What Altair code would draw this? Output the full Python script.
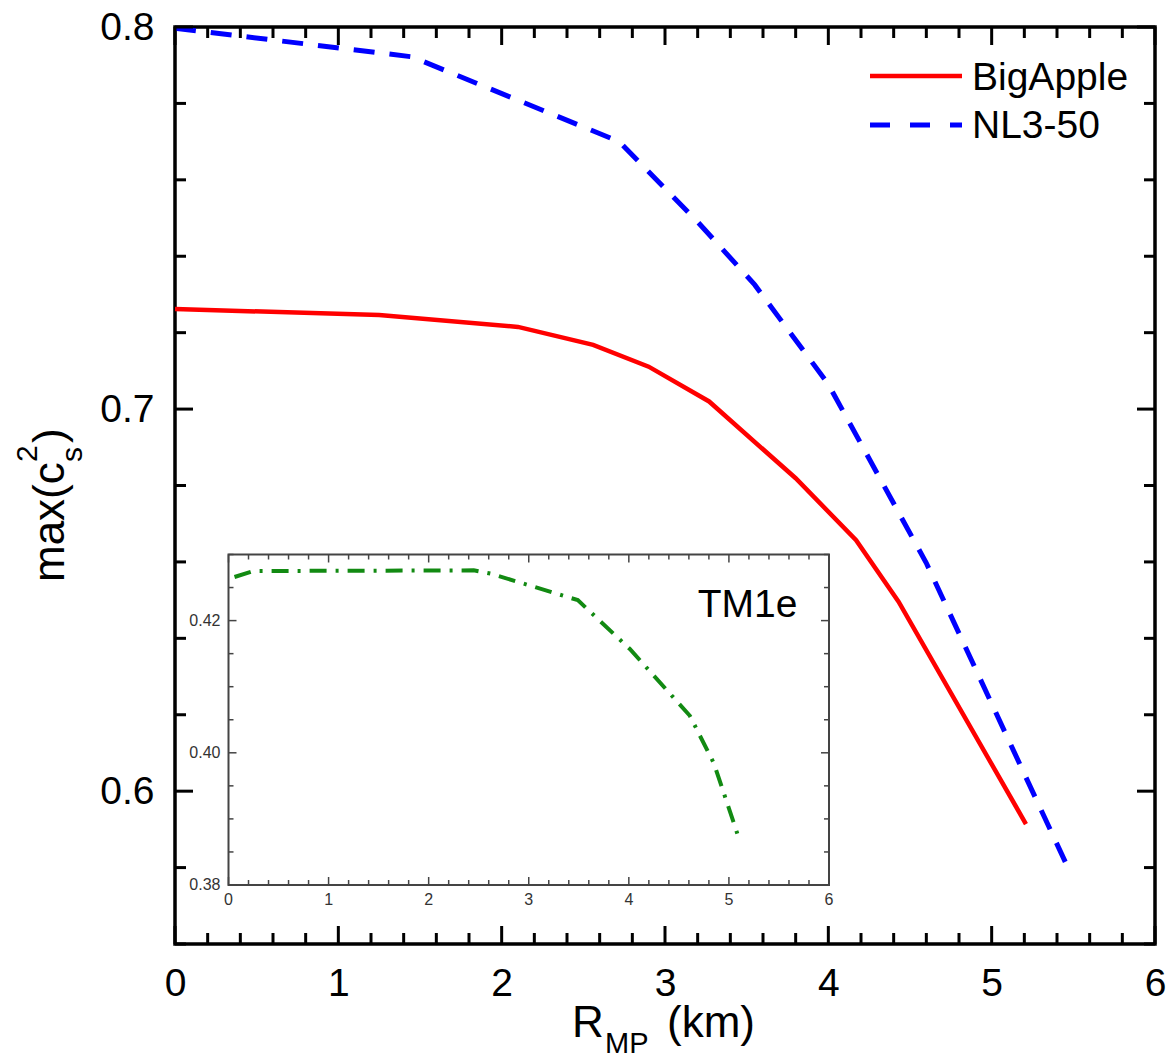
import altair as alt
import pandas as pd

FONT = "Liberation Sans"

# ---------------- data ----------------
series_names = ["BigApple", "NL3-50", "TM1e"]

big_x = [0.0, 1.25, 2.1, 2.56, 2.9, 3.27, 3.8, 4.17, 4.43, 5.21]
big_y = [0.7262, 0.7246, 0.7215, 0.7168, 0.7111, 0.7020, 0.6819, 0.6657, 0.6496, 0.5914]

nl3_x = [0.0, 1.45, 2.72, 3.2, 3.55, 4.0, 4.6, 5.47]
nl3_y = [0.7997, 0.7922, 0.7700, 0.7490, 0.7325, 0.7065, 0.6597, 0.5797]

tm1e_x = [0.06, 0.25, 2.45, 2.62, 3.49, 4.01, 4.61, 4.85, 5.11]
tm1e_y = [0.4266, 0.4275, 0.4276, 0.4271, 0.4231, 0.4157, 0.4056, 0.3984, 0.3866]

x_major = [0, 1, 2, 3, 4, 5, 6]
x_minor = [0.2, 0.4, 0.6, 0.8, 1.2, 1.4, 1.6, 1.8, 2.2, 2.4, 2.6, 2.8,
           3.2, 3.4, 3.6, 3.8, 4.2, 4.4, 4.6, 4.8, 5.2, 5.4, 5.6, 5.8]
y_major = [0.6, 0.7, 0.8]
y_minor = [0.56, 0.58, 0.62, 0.64, 0.66, 0.68, 0.72, 0.74, 0.76, 0.78]

inset_x_major = [0, 1, 2, 3, 4, 5, 6]
inset_x_labels = ["0", "1", "2", "3", "4", "5", "6"]
inset_x_minor = x_minor
inset_y_major = [0.38, 0.40, 0.42]
inset_y_labels = ["0.38", "0.40", "0.42"]
inset_y_minor = [0.385, 0.39, 0.395, 0.405, 0.41, 0.415, 0.425, 0.43]

y_title_parts = ["max(c", "s", "2", ")"]
x_title_parts = ["R", "MP", "(km)"]

# ---------------- geometry (plot area) ----------------
W, H = 980, 917

xs = alt.Scale(domain=[0, 6], nice=False, zero=False)
ys = alt.Scale(domain=[0.56, 0.8], nice=False, zero=False)

IX0, IX1 = 53.5, 654.0
IY0, IY1 = 858.0, 527.5
ixs = alt.Scale(domain=[0, 6], range=[IX0, IX1], nice=False, zero=False)
iys = alt.Scale(domain=[0.38, 0.43], range=[IY0, IY1], nice=False, zero=False)

xaxis = alt.Axis(values=x_major, format="d", title=None, ticks=False, domain=False,
                 grid=False, labelFontSize=39, labelFont=FONT, labelColor="black",
                 labelPadding=20, labelFlush=False, labelOverlap=False, labelBound=False)
yaxis = alt.Axis(values=y_major, format=".1f", title=None, ticks=False, domain=False,
                 grid=False, labelFontSize=39, labelFont=FONT, labelColor="black",
                 labelPadding=21, labelFlush=False, labelOverlap=False, labelBound=False)


def rules(values, scale, axis, channel, a, b, color="black", width=3.0):
    df = pd.DataFrame({"v": values})
    if channel == "x":
        enc = dict(x=alt.X("v:Q", scale=scale, axis=axis), y=alt.value(a), y2=alt.value(b))
    else:
        enc = dict(y=alt.Y("v:Q", scale=scale, axis=axis), x=alt.value(a), x2=alt.value(b))
    return alt.Chart(df).mark_rule(color=color, strokeWidth=width).encode(**enc)


def label(txt, x, y, size, angle=0, align="left", baseline="alphabetic", color="black"):
    return alt.Chart(pd.DataFrame({"t": [txt]})).mark_text(
        align=align, baseline=baseline, fontSize=size, font=FONT, angle=angle, color=color
    ).encode(text="t:N", x=alt.value(x), y=alt.value(y))


# ---------------- main panel ----------------
big_df = pd.DataFrame({"x": big_x, "y": big_y})
nl3_df = pd.DataFrame({"x": nl3_x, "y": nl3_y})

red = alt.Chart(big_df).mark_line(color="#ff0000", strokeWidth=4.5).encode(
    x=alt.X("x:Q", scale=xs, axis=xaxis), y=alt.Y("y:Q", scale=ys, axis=yaxis))
blue = alt.Chart(nl3_df).mark_line(color="#0000ff", strokeWidth=5, strokeDash=[21, 15]).encode(
    x=alt.X("x:Q", scale=xs, axis=xaxis), y=alt.Y("y:Q", scale=ys, axis=yaxis))

MAJ, MIN = 18, 11
main_ticks = [
    rules(x_major, xs, xaxis, "x", H, H - MAJ),
    rules(x_minor, xs, xaxis, "x", H, H - MIN),
    rules(x_major, xs, xaxis, "x", 0, MAJ),
    rules(x_minor, xs, xaxis, "x", 0, MIN),
    rules(y_major, ys, yaxis, "y", 0, MAJ),
    rules(y_minor, ys, yaxis, "y", 0, MIN),
    rules(y_major, ys, yaxis, "y", W, W - MAJ),
    rules(y_minor, ys, yaxis, "y", W, W - MIN),
]

leg_red = alt.Chart(pd.DataFrame({"name": [series_names[0]]})).mark_rule(
    color="#ff0000", strokeWidth=4.5).encode(x=alt.value(695), x2=alt.value(787), y=alt.value(49))
leg_blue = alt.Chart(pd.DataFrame({"name": [series_names[1]]})).mark_rule(
    color="#0000ff", strokeWidth=5, strokeDash=[20, 20]).encode(
    x=alt.value(695), x2=alt.value(787), y=alt.value(98))
leg_t1 = label(series_names[0], 797, 63, 39)
leg_t2 = label(series_names[1], 797, 111, 39)

# axis titles built from text pieces (sub/superscripts)
yt = [
    label(y_title_parts[0], -111, 555, 44, angle=270),
    label(y_title_parts[1], -93, 435, 30, angle=270),
    label(y_title_parts[2], -138, 435, 30, angle=270),
    label(y_title_parts[3], -111, 416, 44, angle=270),
]
xt = [
    label(x_title_parts[0], 397, 1010, 44),
    label(x_title_parts[1], 430, 1026, 29),
    label(x_title_parts[2], 492, 1010, 44),
]

main = alt.layer(red, blue, *main_ticks, leg_red, leg_blue, leg_t1, leg_t2, *yt, *xt)

# ---------------- inset ----------------
tm_df = pd.DataFrame({"x": tm1e_x, "y": tm1e_y})
box = alt.Chart(pd.DataFrame({"x": [0], "x2": [6], "y": [0.38], "y2": [0.43]})).mark_rect(
    fill="white", stroke="#444444", strokeWidth=2).encode(
    x=alt.X("x:Q", scale=ixs, axis=None), x2="x2:Q",
    y=alt.Y("y:Q", scale=iys, axis=None), y2="y2:Q")
green = alt.Chart(tm_df).mark_line(color="#128a12", strokeWidth=4, strokeDash=[17, 9, 3, 9]).encode(
    x=alt.X("x:Q", scale=ixs, axis=None), y=alt.Y("y:Q", scale=iys, axis=None))

IMAJ, IMIN = 8, 5
IC = "#444444"
inset_ticks = [
    rules(inset_x_major, ixs, None, "x", IY0, IY0 - IMAJ, IC, 1.5),
    rules(inset_x_minor, ixs, None, "x", IY0, IY0 - IMIN, IC, 1.5),
    rules(inset_x_major, ixs, None, "x", IY1, IY1 + IMAJ, IC, 1.5),
    rules(inset_x_minor, ixs, None, "x", IY1, IY1 + IMIN, IC, 1.5),
    rules(inset_y_major, iys, None, "y", IX0, IX0 + IMAJ, IC, 1.5),
    rules(inset_y_minor, iys, None, "y", IX0, IX0 + IMIN, IC, 1.5),
    rules(inset_y_major, iys, None, "y", IX1, IX1 - IMAJ, IC, 1.5),
    rules(inset_y_minor, iys, None, "y", IX1, IX1 - IMIN, IC, 1.5),
]
ixl = alt.Chart(pd.DataFrame({"v": inset_x_major, "t": inset_x_labels})).mark_text(
    align="center", baseline="top", fontSize=16, font=FONT, color="#333333").encode(
    x=alt.X("v:Q", scale=ixs, axis=None), y=alt.value(IY0 + 7), text="t:N")
iyl = alt.Chart(pd.DataFrame({"v": inset_y_major, "t": inset_y_labels})).mark_text(
    align="right", baseline="middle", fontSize=16, font=FONT, color="#333333").encode(
    y=alt.Y("v:Q", scale=iys, axis=None), x=alt.value(IX0 - 8), text="t:N")
tm_lab = label(series_names[2], 622.5, 590, 39, align="right")

inset = alt.layer(box, green, *inset_ticks, ixl, iyl, tm_lab)

chart = alt.layer(main, inset).resolve_scale(x="independent", y="independent").properties(
    width=W, height=H,
    autosize=alt.AutoSizeParams(type="none"),
    padding={"left": 175, "top": 27, "right": 13, "bottom": 120},
    background="white",
).configure_view(stroke="black", strokeWidth=3.5)

chart.save("out.html", embed_options={"renderer": "svg", "actions": False})
